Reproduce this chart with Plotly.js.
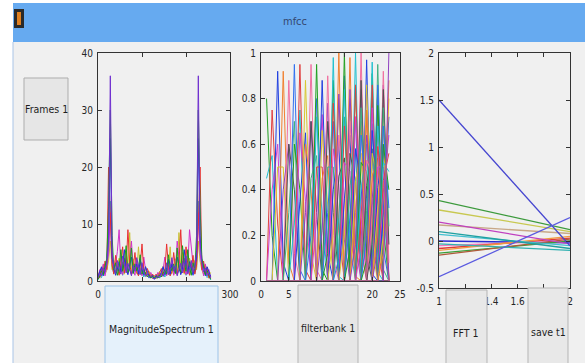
<!DOCTYPE html>
<html><head><meta charset="utf-8">
<script src="https://cdn.plot.ly/plotly-3.0.1.min.js"></script>
<style>html,body{margin:0;padding:0;background:#fff;overflow:hidden}#chart{width:585px;height:363px}</style>
</head><body><div id="chart"></div>
<script>
// ---------- data ----------
const specBins = [0,4,8,12,16,20,24,28,32,36,40,44,48,52,56,60,64,68,72,76,80,84,88,92,96,100,104,108,112,116,120,124,128,132,136,140,144,148,152,156,160,164,168,172,176,180,184,188,192,196,200,204,208,212,216,220,224,228,232,236,240,244,248,252,256];
const specCyan = [0.2,1.0,0.6,1.9,3.0,2.2,5.0,14.0,2.5,1.3,2.0,3.0,1.5,2.7,1.0,2.2,3.5,1.6,2.0,1.2,3.2,1.8,2.4,1.0,1.8,2.3,0.7,1.6,1.0,0.5,1.2,0.6,0.7,0.6,1.2,0.5,1.0,1.6,0.7,2.3,1.8,1.0,2.4,1.8,3.2,1.2,2.0,1.6,3.5,2.2,1.0,2.7,1.5,3.0,2.0,1.3,2.5,14.0,5.0,2.2,3.0,1.9,0.6,1.0,0.2];
const specOlive = [1.5,0.8,1.6,2.8,1.2,1.9,3.5,7.0,2.0,3.6,1.4,2.5,4.0,1.8,3.3,1.2,5.0,2.4,8.5,1.7,3.9,2.6,1.3,6.0,1.9,3.0,1.4,2.6,0.9,1.7,1.1,0.4,0.9,0.4,1.1,1.7,0.9,2.6,1.4,3.0,1.9,6.0,1.3,2.6,3.9,1.7,8.5,2.4,5.0,1.2,3.3,1.8,4.0,2.5,1.4,3.6,2.0,7.0,3.5,1.9,1.2,2.8,1.6,0.8,1.5];
const specMagenta = [0.4,2.0,1.1,3.0,0.9,2.6,4.8,12.0,3.5,1.6,2.9,5.2,9.0,2.3,1.1,4.0,2.1,1.3,3.4,7.0,2.0,1.0,3.6,1.5,2.2,0.9,4.2,2.0,1.2,0.8,1.5,0.7,0.5,0.7,1.5,0.8,1.2,2.0,4.2,0.9,2.2,1.5,3.6,1.0,2.0,7.0,3.4,1.3,2.1,4.0,1.1,2.3,9.0,5.2,2.9,1.6,3.5,12.0,4.8,2.6,0.9,3.0,1.1,2.0,0.4];
const specRed = [1.0,0.5,2.4,1.3,3.5,2.0,20.0,9.5,2.8,1.2,4.5,2.2,1.0,3.0,6.0,1.4,2.5,9.0,3.2,1.1,2.4,5.0,1.6,0.9,2.8,6.5,1.8,1.0,2.2,1.4,0.6,1.2,0.8,1.2,0.6,1.4,2.2,1.0,1.8,6.5,2.8,0.9,1.6,5.0,2.4,1.1,3.2,9.0,2.5,1.4,6.0,3.0,1.0,2.2,4.5,1.2,2.8,9.5,20.0,2.0,3.5,1.3,2.4,0.5,1.0];
const specBlue = [0.8,1.7,2.5,0.9,2.0,3.8,8.0,25.0,4.0,2.7,1.0,2.0,3.4,1.6,2.6,5.5,2.0,1.1,2.6,4.2,1.4,2.2,3.0,1.2,3.8,2.0,1.1,2.5,1.5,0.9,0.6,1.0,0.3,1.0,0.6,0.9,1.5,2.5,1.1,2.0,3.8,1.2,3.0,2.2,1.4,4.2,2.6,1.1,2.0,5.5,2.6,1.6,3.4,2.0,1.0,2.7,4.0,25.0,8.0,3.8,2.0,0.9,2.5,1.7,0.8];
const specGreen = [0.3,0.9,1.8,1.1,2.6,4.0,13.0,30.0,8.0,1.9,3.2,1.0,2.4,5.5,1.7,3.3,6.2,1.5,2.2,5.8,1.3,3.0,1.8,2.5,4.6,1.2,2.0,1.4,0.7,1.1,0.5,0.8,0.6,0.8,0.5,1.1,0.7,1.4,2.0,1.2,4.6,2.5,1.8,3.0,1.3,5.8,2.2,1.5,6.2,3.3,1.7,5.5,2.4,1.0,3.2,1.9,8.0,30.0,13.0,4.0,2.6,1.1,1.8,0.9,0.3];
const specPurple = [0.6,1.4,0.9,2.3,1.6,3.2,6.8,36.0,5.2,2.4,1.5,3.6,2.1,1.2,4.4,2.6,1.4,3.1,1.9,0.9,2.7,1.7,4.1,2.3,1.1,3.2,1.6,0.8,1.3,0.6,0.9,0.5,0.4,0.5,0.9,0.6,1.3,0.8,1.6,3.2,1.1,2.3,4.1,1.7,2.7,0.9,1.9,3.1,1.4,2.6,4.4,1.2,2.1,3.6,1.5,2.4,5.2,36.0,6.8,3.2,1.6,2.3,0.9,1.4,0.6];

const fbChannels = [1,2,3,4,5,6,7,8,9,10,11,12,13,14,15,16,17,18,19,20,21,22,23];
// weight of each frequency bin on filter k (left) and on filter k+1 (right), grouped by filter k
const fbLeftByFilter = [
 [0.8,0.45],[0.75,0.4],[0.92,0.5],[0.92,0.4],[0.88,0.6,0.3],[0.95,0.6,0.25],[0.95,0.65,0.35],[0.88,0.6,0.3],
 [0.95,0.7,0.45,0.2],[0.95,0.72,0.5,0.27],[0.88,0.66,0.45,0.22],[0.9,0.7,0.5,0.3,0.12],[0.98,0.78,0.58,0.4,0.2],
 [1.0,0.82,0.64,0.46,0.28,0.1],[1.0,0.84,0.68,0.52,0.36,0.2],[0.98,0.84,0.7,0.56,0.42,0.28,0.14],
 [1.0,0.86,0.72,0.58,0.44,0.3,0.16],[1.0,0.88,0.76,0.64,0.52,0.4,0.28,0.16],
 [0.97,0.86,0.75,0.64,0.53,0.42,0.31,0.2,0.09],[0.96,0.86,0.76,0.66,0.56,0.46,0.36,0.26,0.16],
 [0.95,0.86,0.77,0.68,0.59,0.5,0.41,0.32,0.23,0.14],[0.92,0.84,0.76,0.68,0.6,0.52,0.44,0.36,0.28,0.2,0.12],
 [1.0]];
const fbRightByFilter = [
 [0.2,0.55],[0.25,0.6],[0.08,0.5],[0.08,0.6],[0.12,0.4,0.7],[0.05,0.4,0.75],[0.05,0.35,0.65],[0.12,0.4,0.7],
 [0.05,0.3,0.55,0.8],[0.05,0.28,0.5,0.73],[0.12,0.34,0.55,0.78],[0.1,0.3,0.5,0.7,0.88],[0.02,0.22,0.42,0.6,0.8],
 [0.0,0.18,0.36,0.54,0.72,0.9],[0.0,0.16,0.32,0.48,0.64,0.8],[0.02,0.16,0.3,0.44,0.58,0.72,0.86],
 [0.0,0.14,0.28,0.42,0.56,0.7,0.84],[0.0,0.12,0.24,0.36,0.48,0.6,0.72,0.84],
 [0.03,0.14,0.25,0.36,0.47,0.58,0.69,0.8,0.91],[0.04,0.14,0.24,0.34,0.44,0.54,0.64,0.74,0.84],
 [0.05,0.14,0.23,0.32,0.41,0.5,0.59,0.68,0.77,0.86],[0.08,0.16,0.24,0.32,0.4,0.48,0.56,0.64,0.72,0.8,0.88],
 [null]];

const fftX = [1, 2];
const fftStart = [0.0, -0.05, -0.08, -0.1, -0.13, -0.15, 0.07, 0.1, 0.17, 0.2, 0.33, 0.43, -0.03, 1.5, -0.38];
const fftEnd   = [-0.02, 0.0, 0.03, 0.05, 0.0, 0.02, -0.05, -0.08, 0.08, -0.03, 0.1, 0.12, -0.1, -0.05, 0.25];
const fftColors = ['#2a2ad0','#f07ac0','#e03a3a','#f09a40','#3aa03a','#b05a3a','#40c0d0','#20a0a0','#c8a888','#c040c0','#c8c850','#3c9a3c','#30b0b0','#4646d0','#5a5ae0'];

const yTicks3 = [-0.5, 0, 0.5, 1, 1.5, 2];
const yTickText3 = ['-0.5', '0', '0.5', '1', '1.5', '2'];

const specColors = ['#20b8c8','#c8c030','#d030c8','#e83030','#2030e0','#18a018','#7030d0'];
const fbPalette = ['#20a020','#20c0d0','#e04040','#d040d0','#2040e0','#d8c830','#f08030','#9040c0','#f070a0','#505050','#40b080','#3070f0'];

// ---------- traces ----------
const FONT = 'Liberation Sans Narrow, DejaVu Sans Condensed, Arial Narrow, sans-serif';
const traces = [];
const specSeries = [specCyan, specOlive, specMagenta, specRed, specBlue, specGreen, specPurple];
specSeries.forEach((s, i) => traces.push({x: specBins, y: s, type: 'scatter', mode: 'lines', xaxis: 'x', yaxis: 'y', line: {color: specColors[i], width: 1}, hoverinfo: 'skip'}));

let c = 0;
fbLeftByFilter.forEach((lefts, k) => {
  lefts.forEach((a, j) => {
    const y = fbChannels.map(() => 0);
    y[k] = a;
    const b = fbRightByFilter[k][j];
    if (b !== null && k + 1 < y.length) y[k + 1] = b;
    traces.push({x: fbChannels, y: y, type: 'scatter', mode: 'lines', xaxis: 'x2', yaxis: 'y2', line: {color: fbPalette[c % fbPalette.length], width: 1}, hoverinfo: 'skip'});
    c++;
  });
});

fftStart.forEach((s, i) => traces.push({x: fftX, y: [s, fftEnd[i]], type: 'scatter', mode: 'lines', xaxis: 'x3', yaxis: 'y3', line: {color: fftColors[i], width: 1.3}, hoverinfo: 'skip'}));

// ---------- layout ----------
const W = 585, H = 363;
const px = v => v / W, py = v => 1 - v / H;
const axBase = {showline: true, linecolor: '#333333', linewidth: 1, mirror: 'ticks', ticks: 'inside', ticklen: 4, tickcolor: '#333333', showgrid: false, zeroline: false, tickfont: {family: FONT, size: 10, color: '#262626'}, fixedrange: true};

function rect(x0, y0, x1, y1, fill, line, layer) {
  return {type: 'rect', xref: 'paper', yref: 'paper', x0: px(x0), x1: px(x1), y0: py(y1), y1: py(y0), fillcolor: fill, line: {color: line || fill, width: line ? 1 : 0}, layer: layer || 'below'};
}
const shapes = [
  rect(13, 42, 585, 363, '#f0f0f0', null, 'below'),
  rect(13, 3, 585, 42, '#66aaf0', null, 'below'),
  rect(14, 9, 24, 28, '#2a2a2a', null, 'below'),
  rect(17, 12, 21, 25, '#e08020', null, 'below'),
  {type: 'line', xref: 'paper', yref: 'paper', x0: px(13), x1: px(13), y0: 0, y1: py(42), line: {color: '#a9c4e6', width: 1}},
  rect(24, 78, 68, 140, '#e6e6e6', '#adadad', 'above'),
  rect(105, 286, 218, 364, '#e5f1fb', '#9cc3e8', 'above'),
  rect(298, 285, 358, 364, '#e6e6e6', '#b5b5b5', 'above'),
  rect(446, 290, 487, 364, '#e8e8e8', '#b5b5b5', 'above'),
  rect(528, 288, 568, 364, '#e8e8e8', '#b5b5b5', 'above')
];
function label(text, x, y, size, color) {
  return {text: text, xref: 'paper', yref: 'paper', x: px(x), y: py(y), xanchor: 'center', yanchor: 'middle', showarrow: false, font: {family: FONT, size: size, color: color || '#1e1e1e'}};
}
const annotations = [
  label('mfcc', 295, 22, 11, '#34476e'),
  label('Frames 1', 46, 109, 10.5),
  label('MagnitudeSpectrum 1', 161, 329, 10.5),
  label('filterbank 1', 328, 328, 10.5),
  label('FFT 1', 466, 333, 10.5),
  label('save t1', 548, 332, 10.5)
];

const layout = {
  width: W, height: H, margin: {l: 0, r: 0, t: 0, b: 0},
  paper_bgcolor: '#ffffff', plot_bgcolor: '#ffffff', showlegend: false,
  xaxis: Object.assign({}, axBase, {domain: [px(98), px(230)], range: [0, 300], dtick: 100, anchor: 'y', ticklabelstandoff: 4}),
  yaxis: Object.assign({}, axBase, {domain: [py(281), py(53)], range: [0, 40], dtick: 10, anchor: 'x', ticklabelstandoff: 2}),
  xaxis2: Object.assign({}, axBase, {domain: [px(261), px(400)], range: [0, 25], dtick: 5, anchor: 'y2', ticklabelstandoff: 4}),
  yaxis2: Object.assign({}, axBase, {domain: [py(281), py(53)], range: [0, 1], dtick: 0.2, anchor: 'x2', ticklabelstandoff: 2}),
  xaxis3: Object.assign({}, axBase, {domain: [px(439), px(570)], range: [1, 2], dtick: 0.2, anchor: 'y3', ticklabelstandoff: 4}),
  yaxis3: Object.assign({}, axBase, {domain: [py(288), py(53)], range: [-0.5, 2], tickmode: 'array', tickvals: yTicks3, ticktext: yTickText3, anchor: 'x3', ticklabelstandoff: 2}),
  shapes: shapes, annotations: annotations
};
Plotly.newPlot('chart', traces, layout, {staticPlot: true, displayModeBar: false});
</script></body></html>
